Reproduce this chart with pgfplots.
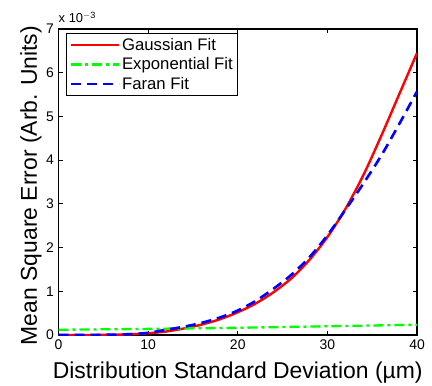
\documentclass[border=0pt]{standalone}
\usepackage{pgfplots}
\pgfplotsset{compat=1.18}
\usepackage{fontspec}
\setmainfont{Liberation Sans}

% fitted error curves, values in units of 1e-3
\pgfplotstableread{
x    y
0    0.000
2    0.000
4    0.001
6    0.005
8    0.015
10   0.040
12   0.080
14   0.150
16   0.240
18   0.360
20   0.520
22   0.720
24   0.980
26   1.300
28   1.720
30   2.240
32   2.880
34   3.650
36   4.550
38   5.500
40   6.450
}\gaussfit
\pgfplotstableread{
x    y
0    0.120
10   0.140
20   0.165
30   0.200
40   0.235
}\expfit
\pgfplotstableread{
x    y
0    0.000
2    0.000
4    0.002
6    0.008
8    0.020
10   0.050
12   0.120
14   0.190
16   0.280
18   0.400
20   0.560
22   0.780
24   1.060
26   1.380
28   1.780
30   2.280
32   2.860
34   3.460
36   4.100
38   4.820
40   5.570
}\faranfit

\begin{document}
\begin{tikzpicture}
\begin{axis}[
  name=ax,
  scale only axis,
  width=358.5bp, height=306bp,
  xmin=0, xmax=40, ymin=0, ymax=7,
  xtick={0,10,20,30,40},
  ytick={0,1,2,3,4,5,6,7},
  scaled ticks=false,
  tick align=inside,
  major tick length=4bp,
  axis line style={line width=1.1bp},
  every tick/.style={black, line width=0.9bp},
  /pgf/number format/assume math mode=true,
  ticklabel style={font=\fontsize{14}{14}\selectfont},
  xticklabel style={yshift=-1bp},
  yticklabel style={xshift=-1bp},
  xlabel={Distribution Standard Deviation (µm)},
  ylabel={Mean Square Error (Arb. Units)},
  label style={font=\fontsize{23}{23}\selectfont},
  xlabel style={at={(axis description cs:0.5,0)}, anchor=base, yshift=-43bp},
  ylabel style={at={(axis description cs:-0.06,0.4886)}, anchor=base},
  legend cell align=left,
  legend style={at={(0,1)}, anchor=north west, xshift=7.5bp, yshift=-4bp,
    draw=black, line width=0.9bp, font=\fontsize{16.8}{16.8}\selectfont,
    inner xsep=3bp, inner ysep=2.5bp, row sep=2bp,
    nodes={inner sep=2bp}},
  legend image code/.code={\draw[#1] (0bp,0bp) -- (48bp,0bp);},
  clip=true,
]
\addplot[red, line width=2.4bp, smooth] table[x=x,y=y] {\gaussfit};
\addlegendentry{Gaussian Fit}
\addplot[green, line width=2.3bp, dash pattern=on 10bp off 4bp on 3bp off 4bp] table[x=x,y=y] {\expfit};
\addlegendentry{Exponential Fit}
\addplot[blue, line width=2.6bp, dash pattern=on 10bp off 6bp, smooth] table[x=x,y=y] {\faranfit};
\addlegendentry{Faran Fit}
\end{axis}
\node[anchor=base west, font=\fontsize{13}{13}\selectfont, inner sep=0pt]
  at ([xshift=0bp, yshift=6bp]ax.north west) {x 10$^{\mathrm{-3}}$};
\pgfresetboundingbox
\path[use as bounding box] ([shift={(-58.5bp,-50bp)}]ax.south west) rectangle ([shift={(15bp,29bp)}]ax.north east);
\end{tikzpicture}
\end{document}
